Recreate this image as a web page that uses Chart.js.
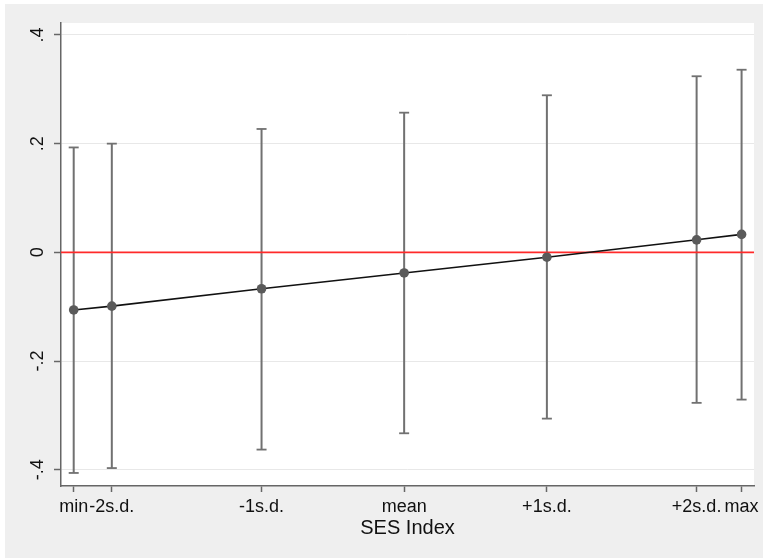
<!DOCTYPE html>
<html>
<head>
<meta charset="utf-8">
<script src="https://cdn.jsdelivr.net/npm/chart.js@4"></script>
<style>
  html, body { margin: 0; padding: 0; background: #fff; }
  #wrap { width: 763px; height: 560px; }
</style>
</head>
<body>
<div id="wrap"><canvas id="chart" width="763" height="560"></canvas></div>
<script>
// --- data ---
const labels = ['min', '-2s.d.', '-1s.d.', 'mean', '+1s.d.', '+2s.d.', 'max'];
const xPos = [-2.315, -2.048, -0.999, 0, 1.0, 2.049, 2.364];   // SES index, in s.d. units
const estimate = [-0.106, -0.099, -0.067, -0.038, -0.009, 0.023, 0.033];
const ciLow = [-0.406, -0.397, -0.363, -0.333, -0.306, -0.277, -0.271];
const ciHigh = [0.193, 0.200, 0.227, 0.257, 0.289, 0.324, 0.336];
const yTicks = [-0.4, -0.2, 0, 0.2, 0.4];
const yTickLabels = ['-.4', '-.2', '0', '.2', '.4'];
const xRange = [-2.404, 2.451];
const yRange = [-0.43, 0.422];

const AXIS = '#666';
const BAR = '#717171';

Chart.defaults.font.family = '"Liberation Sans", Arial, Helvetica, sans-serif';
Chart.defaults.color = '#111';

// vertical CI segments, broken by null points
const segments = [];
xPos.forEach((x, i) => {
  segments.push({ x: x, y: ciLow[i] }, { x: x, y: ciHigh[i] }, { x: x, y: null });
});
const caps = [];
xPos.forEach((x, i) => {
  caps.push({ x: x, y: ciLow[i] }, { x: x, y: ciHigh[i] });
});

const bgPlugin = {
  id: 'bg',
  beforeDraw(chart) {
    const { ctx, chartArea: a } = chart;
    ctx.save();
    ctx.fillStyle = '#efefef';
    ctx.fillRect(5, 4, chart.width - 5, chart.height - 6);
    ctx.fillStyle = '#fff';
    ctx.fillRect(a.left, a.top, a.right - a.left, a.bottom - a.top);
    ctx.restore();
  }
};

new Chart(document.getElementById('chart'), {
  type: 'line',
  data: {
    datasets: [
      {
        label: 'estimate',
        data: xPos.map((x, i) => ({ x: x, y: estimate[i] })),
        borderColor: '#111',
        borderWidth: 1.6,
        pointRadius: 4.8,
        pointBackgroundColor: '#5a5a5a',
        pointBorderColor: '#5a5a5a',
        pointBorderWidth: 0,
        order: 0
      },
      {
        label: 'zero',
        data: [{ x: xRange[0], y: 0 }, { x: xRange[1], y: 0 }],
        borderColor: '#ff2a2a',
        borderWidth: 1.8,
        pointRadius: 0,
        order: 1
      },
      {
        label: 'caps',
        type: 'scatter',
        data: caps,
        pointStyle: 'line',
        pointRadius: 5,
        pointBorderColor: BAR,
        pointBorderWidth: 1.8,
        order: 2
      },
      {
        label: 'ci',
        data: segments,
        borderColor: BAR,
        borderWidth: 2,
        pointRadius: 0,
        spanGaps: false,
        order: 3
      }
    ]
  },
  options: {
    responsive: false,
    animation: false,
    devicePixelRatio: 1,
    events: [],
    layout: { padding: { top: 23, right: 9, left: 0, bottom: 0 } },
    elements: { line: { tension: 0 } },
    plugins: {
      legend: { display: false },
      tooltip: { enabled: false }
    },
    scales: {
      x: {
        type: 'linear',
        min: xRange[0],
        max: xRange[1],
        afterBuildTicks: s => { s.ticks = xPos.map(v => ({ value: v })); },
        afterFit: s => { s.height = 74; },
        ticks: {
          autoSkip: false,
          maxRotation: 0,
          padding: 4,
          font: { size: 18 },
          color: '#111',
          callback: (v, i) => labels[i]
        },
        grid: { drawOnChartArea: false, drawTicks: true, tickLength: 6, tickColor: AXIS, tickWidth: 1.5 },
        border: { display: true, color: AXIS, width: 1.5 },
        title: {
          display: true,
          text: 'SES Index',
          font: { size: 20 },
          color: '#111',
          padding: { top: 0, bottom: 20 }
        }
      },
      y: {
        type: 'linear',
        min: yRange[0],
        max: yRange[1],
        afterBuildTicks: s => { s.ticks = yTicks.map(v => ({ value: v })); },
        afterFit: s => { s.width = 61; },
        ticks: {
          minRotation: 90,
          maxRotation: 90,
          crossAlign: 'center',
          padding: 5,
          font: { size: 18 },
          color: '#111',
          callback: (v, i) => yTickLabels[i]
        },
        grid: { color: '#e8e8e8', lineWidth: 1, drawTicks: true, tickLength: 7, tickColor: AXIS, tickWidth: 1.5 },
        border: { display: true, color: AXIS, width: 1.5 }
      }
    }
  },
  plugins: [bgPlugin]
});
</script>
</body>
</html>
